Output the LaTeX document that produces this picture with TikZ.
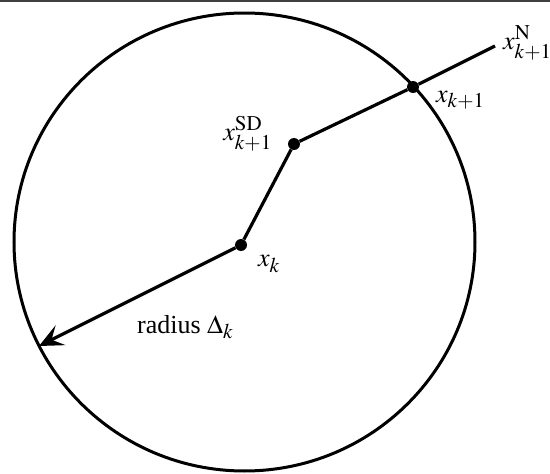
\documentclass[tikz,border=0pt]{standalone}
\usepackage{mathptmx}
\usepackage{fontspec}
\setmainfont{Liberation Serif}
\DeclareMathSizes{26}{26}{21}{16}
\usetikzlibrary{arrows.meta}
\begin{document}
\begin{tikzpicture}[x=1pt,y=-1pt,
  dot/.style={circle,fill=black,inner sep=0pt,minimum size=12pt},
  path/.style={line width=3.2pt},
  lbl/.style={inner sep=0pt,font=\fontsize{26}{30}\selectfont}]
\useasboundingbox (0,0) rectangle (550,474);
\draw[line width=1.2pt,black!75] (0,1) -- (550,1);
\draw[line width=3pt] (244.5,242) ellipse[x radius=230.5pt,y radius=229pt];
\node[dot] (xk) at (241,245) {};
\node[dot] (sd) at (294,144) {};
\node[dot] (xk1) at (413,87) {};
\coordinate (n) at (495,46);
\coordinate (tip) at (39,346);
\draw[path] (xk) -- (sd) -- (xk1) -- (n);
\draw[path,-{Stealth[length=24pt,width=22pt,inset=10pt]}] (xk) -- (tip);
\node[lbl,anchor=west] (ln) at (503,43) {$x_{k+1}^{\mathrm{N}}$};
\node[lbl,anchor=west] (lk1) at (436,100) {$x_{k+1}$};
\node[lbl,anchor=east] (lsd) at (272,134) {$x_{k+1}^{\mathrm{SD}}$};
\node[lbl,anchor=west] (lk) at (258,264) {$x_k$};
\node[lbl,anchor=west] (lr) at (137,327) {radius $\Delta_k$};
\end{tikzpicture}
\end{document}
